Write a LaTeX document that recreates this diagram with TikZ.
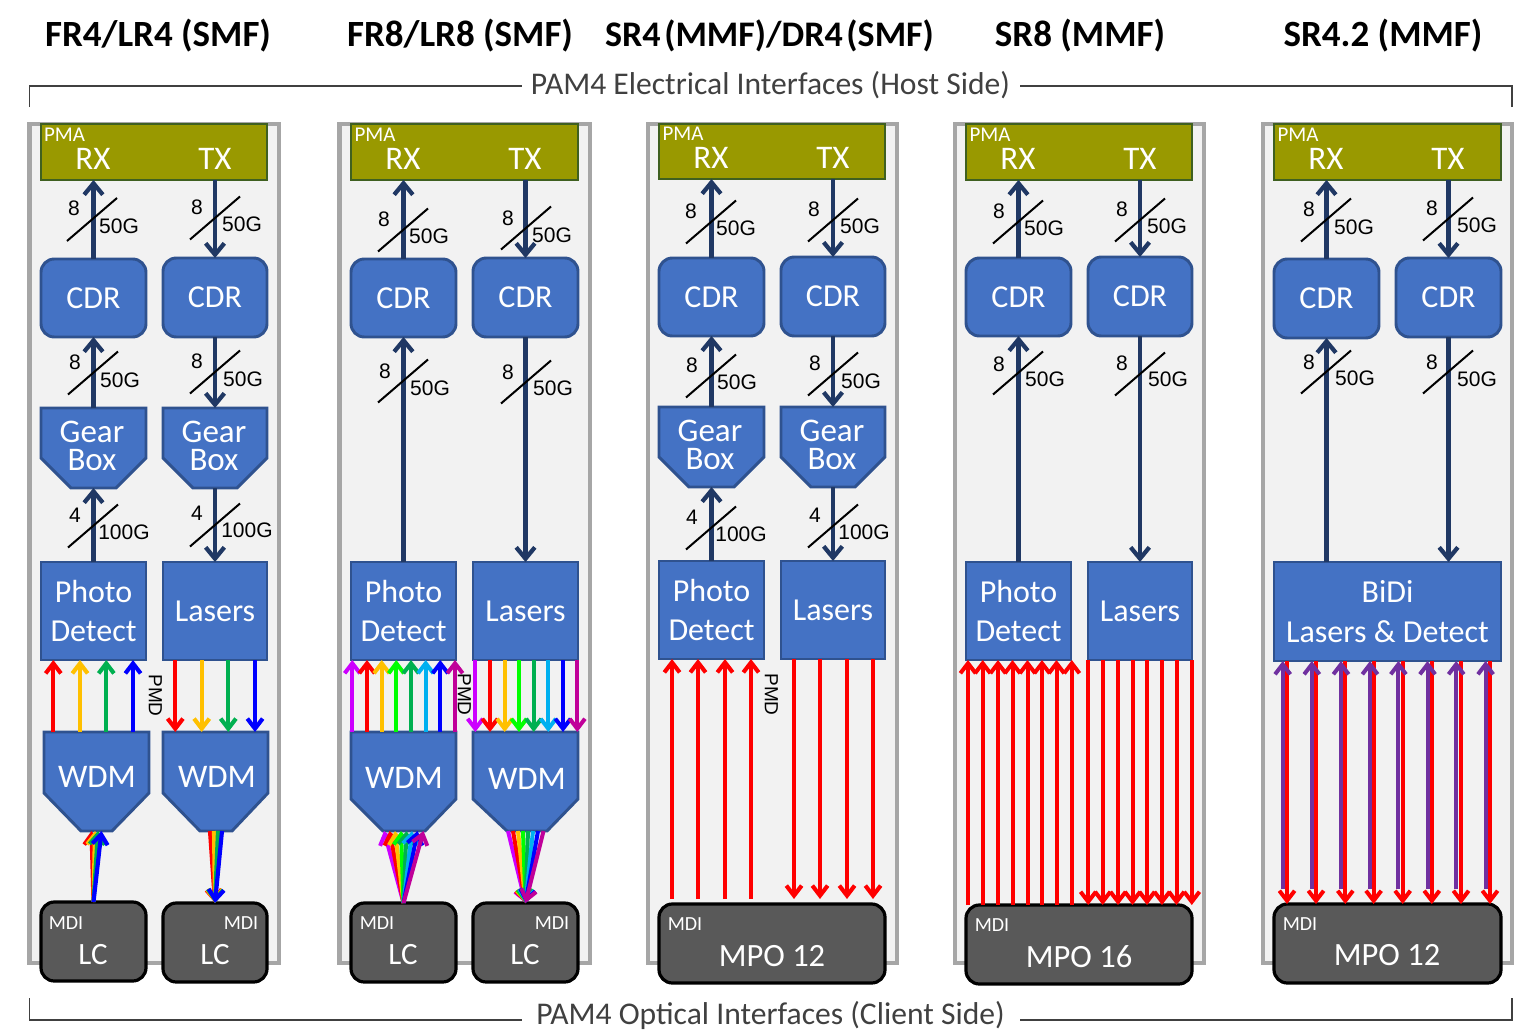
\documentclass[tikz,border=0pt]{standalone}
\usepackage{fontspec}
\setmainfont{Carlito}
\newfontfamily\arialf{Liberation Sans}
\usetikzlibrary{arrows.meta,calc}
\definecolor{pRed}{HTML}{FF0000}
\definecolor{pYel}{HTML}{FFC000}
\definecolor{pGrn}{HTML}{00B050}
\definecolor{pBlu}{HTML}{0000FF}
\definecolor{pVio}{HTML}{CC00FF}
\definecolor{pLim}{HTML}{00FF00}
\definecolor{pSky}{HTML}{00B0F0}
\definecolor{pMag}{HTML}{C00099}
\definecolor{pPur}{HTML}{7030A0}
\definecolor{navyA}{HTML}{203864}
\definecolor{blueF}{HTML}{4472C4}
\definecolor{blueD}{HTML}{2F528F}
\definecolor{oliveF}{HTML}{999900}
\definecolor{oliveD}{HTML}{3F6020}
\definecolor{darkF}{HTML}{595959}
\definecolor{panelF}{HTML}{F2F2F2}
\definecolor{panelD}{HTML}{A6A6A6}
\definecolor{capG}{HTML}{404040}
\newcommand\fpx[1]{\fontsize{\fpeval{#1*0.75}}{\fpeval{#1*0.75*1.2}}\selectfont}
\newcommand\fpl[2]{\fontsize{\fpeval{#1*0.75}}{\fpeval{#2*0.75}}\selectfont}
\newcount\mkcount
\tikzset{
  panelbox/.style={draw=panelD,fill=panelF,line width=3.4pt},
  bluebox/.style={draw=blueD,fill=blueF,line width=2.2pt,text=white},
  blueround/.style={bluebox,rounded corners=10pt},
  cdrbox/.style={blueround,font={\fpx{32}}},
  laserbox/.style={bluebox,font={\fpx{32}}},
  photobox/.style={bluebox,font={\fpl{32}{39}}},
  bidibox/.style={bluebox,font={\fpl{32}{40}}},
  pmabox/.style={draw=oliveD,fill=oliveF,line width=2.2pt},
  darkbox/.style={draw=black,fill=darkF,line width=2.4pt,rounded corners=10pt},
  ghost/.style={inner sep=0pt,outer sep=0pt},
  plain/.style={inner sep=0pt,outer sep=0pt,text=white},
  navarrow/.style={draw=navyA,line width=3.2pt,-{Straight Barb[length=8.5pt,width=14pt]}},
  fiber/.style={line width=3.1pt,-{Straight Barb[length=7.5pt,width=11.5pt]}},
  thinfiber/.style={line width=3pt,-{Straight Barb[length=7.5pt,width=11.5pt]}},
  busline/.style={draw=black,line width=1.5pt},
  buslab/.style={inner sep=0pt,outer sep=0pt,text=black,font={\arialf\fpx{21}}},
  title/.style={inner sep=0pt,outer sep=0pt,text=black,font={\bfseries\fpx{37}}},
  capt/.style={inner sep=0pt,outer sep=0pt,text=capG,font={\fpx{31.6}}},
  capline/.style={draw=capG,line width=1.1pt},
  pmd/.style={inner sep=0pt,outer sep=0pt,text=black,rotate=-90,font={\arialf\fpx{19}}},
}
% box node from pixel corners
\newcommand\bx[7]{%
  \pgfmathsetmacro\bxw{(#4-#2)*0.75}\pgfmathsetmacro\bxh{(#5-#3)*0.75}%
  \pgfmathsetmacro\bxx{(#2+#4)/2}\pgfmathsetmacro\bxy{(#3+#5)/2}%
  \node[#6,align=center,inner sep=0pt,outer sep=0pt,minimum width=\bxw pt,minimum height=\bxh pt] (#1) at (\bxx,\bxy) {#7};}
% cut-corner box: name,x1,y1,x2,y2,side y,bottom x1,bottom x2
\newcommand\cutbox[8]{%
  \draw[bluebox] (#2,#3) -- (#4,#3) -- (#4,#6) -- (#8,#5) -- (#7,#5) -- (#2,#6) -- cycle;
  \bx{#1}{#2}{#3}{#4}{#5}{ghost}{}}
% text node
\newcommand\tx[5]{\node[plain,font={\fpx{#4}}] (#1) at (#2,#3) {#5};}
\newcommand\txl[6]{\node[plain,align=center,font={\fpl{#4}{#5}}] (#1) at (#2,#3) {#6};}
% bus slash: cx,cy,nx,ny,n,lx,ly,label
\newcommand\busmark[8]{%
  \global\advance\mkcount by 1
  \draw[busline] (#1-25,#2+21.5) -- (#1+25,#2-21.5);
  \node[buslab] (mkn\the\mkcount) at (#3,#4) {#5};
  \node[buslab] (mkl\the\mkcount) at (#6,#7) {#8};}
\begin{document}
\begin{tikzpicture}[x=0.75pt,y=-0.75pt]
\useasboundingbox (0,0) rectangle (1519,1031);
% titles
\node[title] (t1) at (158,36) {FR4/LR4 (SMF)};
\node[title] (t2) at (460,36) {FR8/LR8 (SMF)};
\node[title,font={\bfseries\fpx{36}}] (t3) at (769.5,36) {{\spaceskip=0.1em SR4 (MMF)/DR4 (SMF)}};
\node[title] (t4) at (1080,36) {SR8 (MMF)};
\node[title] (t5) at (1383,36) {SR4.2 (MMF)};
% captions
\node[capt] (hostcap) at (770.5,85) {PAM4 Electrical Interfaces (Host Side)};
\node[capt] (clientcap) at (770.5,1015) {PAM4 Optical Interfaces (Client Side)};
\coordinate (hl) at (29.5,107);\coordinate (hr) at (1512,107);
\coordinate (cl) at (29.5,998);\coordinate (cr) at (1512,998);
\coordinate (hya) at (0,86);\coordinate (cya) at (0,1020);
\coordinate (hlE) at (522,86);\coordinate (hrE) at (1020,86);
\coordinate (clE) at (522,1020);\coordinate (crE) at (1020,1020);
\draw[capline] (hl) |- (hlE);
\draw[capline] (hr) |- (hrE);
\draw[capline] (cl) |- (clE);
\draw[capline] (cr) |- (crE);
% panels
\bx{pan1}{29.5}{124}{279}{963}{panelbox}{}
\bx{pan2}{339.5}{124}{590}{963}{panelbox}{}
\bx{pan3}{648}{124}{897}{963}{panelbox}{}
\bx{pan4}{955}{124}{1204}{963}{panelbox}{}
\bx{pan5}{1263}{124}{1512}{963}{panelbox}{}

%%%%%%%%%%%%%%% column 1
\bx{pma1}{41}{124}{267}{180}{pmabox}{}
\tx{pmaT1}{64.5}{135}{21}{PMA}\tx{rx1}{93}{159}{33}{RX}\tx{tx1}{215}{159}{33}{TX}
\bx{cdrR1}{41}{259}{146}{337}{cdrbox}{CDR}
\bx{cdrT1}{163}{258}{267}{337}{cdrbox}{CDR}
\cutbox{gbR1}{41}{408}{146}{488}{458}{71}{116}
\cutbox{gbT1}{163}{408}{267}{488}{458}{193}{237}
\txl{gbRt1}{92}{446}{33}{28}{Gear\\Box}\txl{gbTt1}{214}{446}{33}{28}{Gear\\Box}
\bx{pdR1}{41}{562}{146}{660}{photobox}{Photo\\Detect}
\bx{lsT1}{163}{562}{267}{660}{laserbox}{Lasers}
\cutbox{wdR1}{44}{732}{149}{831}{793}{81}{112}
\cutbox{wdT1}{163}{732}{268}{831}{793}{200}{232}
\tx{wdRt1}{97}{777}{33}{WDM}\tx{wdTt1}{217}{777}{33}{WDM}
\bx{lcR1}{41}{902}{146}{981}{darkbox}{}
\bx{lcT1}{163}{903}{267}{982}{darkbox}{}
\tx{mdiR1}{66}{923}{20}{MDI}\tx{mdiT1}{241}{923}{20}{MDI}
\tx{lcRt1}{93}{955}{31}{LC}\tx{lcTt1}{215}{955}{31}{LC}
\draw[navarrow] (cdrR1.north) -- (cdrR1.north |- pma1.south);
\draw[navarrow] (cdrT1.north |- pma1.south) -- (cdrT1.north);
\draw[navarrow] (gbR1.north) -- (cdrR1.south);
\draw[navarrow] (cdrT1.south) -- (cdrT1.south |- gbT1.north);
\draw[navarrow] (pdR1.north) -- (gbR1.south);
\draw[navarrow] (gbT1.south) -- (lsT1.north);
\busmark{92}{219.5}{74}{208}{8}{119}{226}{50G}
\busmark{215}{218}{197}{207}{8}{242}{224}{50G}
\busmark{93}{373}{75}{362}{8}{120}{380}{50G}
\busmark{215}{372}{197}{361}{8}{243}{379}{50G}
\busmark{93}{526}{75}{515}{4}{124}{532}{100G}
\busmark{215}{525}{197}{513}{4}{247}{530}{100G}
\foreach \x/\c in {53.3/pRed,80/pYel,106.3/pGrn,133/pBlu}
  \draw[fiber,\c] (\x,0 |- wdR1.north) -- (\x,0 |- pdR1.south);
\foreach \x/\c in {175.3/pRed,201.7/pYel,228.3/pGrn,255/pBlu}
  \draw[fiber,\c] (\x,0 |- lsT1.south) -- (\x,0 |- wdT1.north);
\foreach \x/\c in {91.5/pRed,95/pYel,98/pGrn,101.5/pBlu}
  \draw[fiber,\c] (lcR1.north) -- (\x,0 |- wdR1.south);
\foreach \x/\c in {210/pRed,214/pYel,218/pGrn,222/pBlu}
  \draw[fiber,\c] (\x,0 |- wdT1.south) -- (lcT1.north);
\node[pmd] (pmd1) at (155.5,695.5) {PMD};

%%%%%%%%%%%%%%% column 2
\bx{pma2}{351}{124}{578}{180}{pmabox}{}
\tx{pmaT2}{375}{135}{21}{PMA}\tx{rx2}{403}{159}{33}{RX}\tx{tx2}{525}{159}{33}{TX}
\bx{cdrR2}{351}{259}{456}{337}{cdrbox}{CDR}
\bx{cdrT2}{473}{258}{578}{337}{cdrbox}{CDR}
\bx{pdR2}{351}{562}{456}{660}{photobox}{Photo\\Detect}
\bx{lsT2}{473}{562}{578}{660}{laserbox}{Lasers}
\cutbox{wdR2}{351}{732}{456}{831}{799}{383}{425}
\cutbox{wdT2}{473}{732}{578}{831}{799}{507}{547}
\tx{wdRt2}{404}{778}{33}{WDM}\tx{wdTt2}{527}{779}{33}{WDM}
\bx{lcR2}{351}{903}{456}{982}{darkbox}{}
\bx{lcT2}{473}{903}{578}{982}{darkbox}{}
\tx{mdiR2}{377}{923}{20}{MDI}\tx{mdiT2}{552}{923}{20}{MDI}
\tx{lcRt2}{403}{955}{31}{LC}\tx{lcTt2}{525}{955}{31}{LC}
\draw[navarrow] (cdrR2.north) -- (cdrR2.north |- pma2.south);
\draw[navarrow] (cdrT2.north |- pma2.south) -- (cdrT2.north);
\draw[navarrow] (pdR2.north) -- (cdrR2.south);
\draw[navarrow] (cdrT2.south) -- (lsT2.north);
\busmark{403}{230}{384}{219}{8}{429}{236}{50G}
\busmark{526}{228}{508}{218}{8}{552}{235}{50G}
\busmark{403}{381}{385}{371}{8}{430}{388}{50G}
\busmark{526}{382}{508}{372}{8}{553}{388}{50G}
\foreach \x/\c in {352.3/pVio,367/pRed,381.7/pYel,396.3/pLim,411/pGrn,425.7/pSky,440.3/pBlu,455/pMag}
  \draw[thinfiber,\c] (\x,0 |- wdR2.north) -- (\x,0 |- pdR2.south);
\foreach \x/\c in {475.3/pVio,490/pRed,504.7/pYel,519/pLim,533.7/pGrn,548.3/pSky,563/pBlu,577.3/pMag}
  \draw[thinfiber,\c] (\x,0 |- lsT2.south) -- (\x,0 |- wdT2.north);
\foreach \x/\c in {384/pVio,389.5/pRed,395/pYel,401/pLim,406.5/pGrn,412/pSky,417.5/pBlu,423.5/pMag}
  \draw[thinfiber,\c] (lcR2.north) -- (\x,0 |- wdR2.south);
\foreach \x/\c in {508/pVio,513/pRed,518/pYel,523/pLim,528/pGrn,533/pSky,538/pBlu,543.5/pMag}
  \draw[thinfiber,\c] (\x,0 |- wdT2.south) -- (lcT2.north);
\node[pmd] (pmd2) at (464.5,694.5) {PMD};

%%%%%%%%%%%%%%% column 3
\bx{pma3}{659}{124}{885}{179}{pmabox}{}
\tx{pmaT3}{683}{134}{21}{PMA}\tx{rx3}{711}{158}{33}{RX}\tx{tx3}{833}{158}{33}{TX}
\bx{cdrR3}{659}{258}{764}{336}{cdrbox}{CDR}
\bx{cdrT3}{781}{257}{885}{336}{cdrbox}{CDR}
\cutbox{gbR3}{659}{407}{764}{487}{457}{689}{734}
\cutbox{gbT3}{781}{407}{885}{487}{457}{811}{855}
\txl{gbRt3}{710}{445}{33}{28}{Gear\\Box}\txl{gbTt3}{832}{445}{33}{28}{Gear\\Box}
\bx{pdR3}{659}{561}{764}{659}{photobox}{Photo\\Detect}
\bx{lsT3}{781}{561}{885}{659}{laserbox}{Lasers}
\bx{mpo3}{659}{904}{885}{983}{darkbox}{}
\tx{mdiR3}{685}{924}{20}{MDI}\tx{mpoT3}{772}{956}{32.5}{MPO 12}
\coordinate (base3) at (772,899);
\draw[navarrow] (cdrR3.north) -- (cdrR3.north |- pma3.south);
\draw[navarrow] (cdrT3.north |- pma3.south) -- (cdrT3.north);
\draw[navarrow] (gbR3.north) -- (cdrR3.south);
\draw[navarrow] (cdrT3.south) -- (cdrT3.south |- gbT3.north);
\draw[navarrow] (pdR3.north) -- (gbR3.south);
\draw[navarrow] (gbT3.south) -- (lsT3.north);
\busmark{711}{222}{691}{211}{8}{736}{228}{50G}
\busmark{833}{220}{814}{209}{8}{860}{226}{50G}
\busmark{711}{376}{692}{365}{8}{737}{382}{50G}
\busmark{833}{374}{815}{363}{8}{861}{381}{50G}
\busmark{711}{528}{692}{517}{4}{741}{534}{100G}
\busmark{833}{526}{815}{515}{4}{864}{532}{100G}
\foreach \x in {672,698,725,751}
  \draw[fiber,pRed] (\x,0 |- base3) -- (\x,0 |- pdR3.south);
\foreach \x in {794,820,847,873}
  \draw[fiber,pRed] (\x,0 |- lsT3.south) -- (\x,0 |- base3);
\node[pmd] (pmd3) at (771.5,694.5) {PMD};

%%%%%%%%%%%%%%% column 4
\bx{pma4}{966}{124}{1192}{180}{pmabox}{}
\tx{pmaT4}{990}{135}{21}{PMA}\tx{rx4}{1018}{159}{33}{RX}\tx{tx4}{1140}{159}{33}{TX}
\bx{cdrR4}{966}{258}{1071}{336}{cdrbox}{CDR}
\bx{cdrT4}{1088}{257}{1192}{336}{cdrbox}{CDR}
\bx{pdR4}{966}{562}{1071}{660}{photobox}{Photo\\Detect}
\bx{lsT4}{1088}{562}{1192}{660}{laserbox}{Lasers}
\bx{mpo4}{966}{905}{1192}{984}{darkbox}{}
\tx{mdiR4}{992}{925}{20}{MDI}\tx{mpoT4}{1079}{957}{32.5}{MPO 16}
\draw[navarrow] (cdrR4.north) -- (cdrR4.north |- pma4.south);
\draw[navarrow] (cdrT4.north |- pma4.south) -- (cdrT4.north);
\draw[navarrow] (pdR4.north) -- (cdrR4.south);
\draw[navarrow] (cdrT4.south) -- (lsT4.north);
\busmark{1018}{222}{999}{211}{8}{1044}{228}{50G}
\busmark{1140}{220}{1122}{209}{8}{1167}{226}{50G}
\busmark{1018}{373}{999}{364}{8}{1045}{379}{50G}
\busmark{1140}{374}{1122}{363}{8}{1168}{379}{50G}
\foreach \x in {968,982.7,998,1012.5,1027.5,1042,1056.5,1071.8}
  \draw[thinfiber,pRed] (\x,0 |- mpo4.north) -- (\x,0 |- pdR4.south);
\foreach \x in {1088.2,1102.7,1118,1132.5,1147,1162,1176.5,1191.8}
  \draw[thinfiber,pRed] (\x,0 |- lsT4.south) -- (\x,0 |- mpo4.north);

%%%%%%%%%%%%%%% column 5
\bx{pma5}{1274}{124}{1501}{180}{pmabox}{}
\tx{pmaT5}{1298}{135}{21}{PMA}\tx{rx5}{1326}{159}{33}{RX}\tx{tx5}{1448}{159}{33}{TX}
\bx{cdrR5}{1274}{259}{1379}{338}{cdrbox}{CDR}
\bx{cdrT5}{1396}{258}{1501}{337}{cdrbox}{CDR}
\bx{bidi5}{1274}{562}{1501}{661}{bidibox}{BiDi\\Lasers \& Detect}
\bx{mpo5}{1274}{904}{1501}{983}{darkbox}{}
\tx{mdiR5}{1300}{924}{20}{MDI}\tx{mpoT5}{1387}{955}{32.5}{MPO 12}
\draw[navarrow] (cdrR5.north) -- (cdrR5.north |- pma5.south);
\draw[navarrow] (cdrT5.north |- pma5.south) -- (cdrT5.north);
\draw[navarrow] (cdrR5.south |- bidi5.north) -- (cdrR5.south);
\draw[navarrow] (cdrT5.south) -- (cdrT5.south |- bidi5.north);
\busmark{1326}{220}{1309}{209}{8}{1354}{227}{50G}
\busmark{1448}{219}{1432}{208}{8}{1477}{225}{50G}
\busmark{1326}{372}{1309}{362}{8}{1355}{378}{50G}
\busmark{1448}{372}{1432}{362}{8}{1477}{379}{50G}
\coordinate (base5) at (1387,889);
\foreach \x in {1287,1316,1345.3,1373.6,1402.7,1431.8,1461,1490}
  \draw[thinfiber,pRed] (\x,0 |- bidi5.south) -- (\x,0 |- mpo5.north);
\foreach \x in {1282.7,1311.8,1341,1370,1398.4,1427.5,1456.2,1485.6}
  \draw[thinfiber,pPur] (\x,0 |- base5) -- (\x,0 |- bidi5.south);
\end{tikzpicture}
\end{document}
